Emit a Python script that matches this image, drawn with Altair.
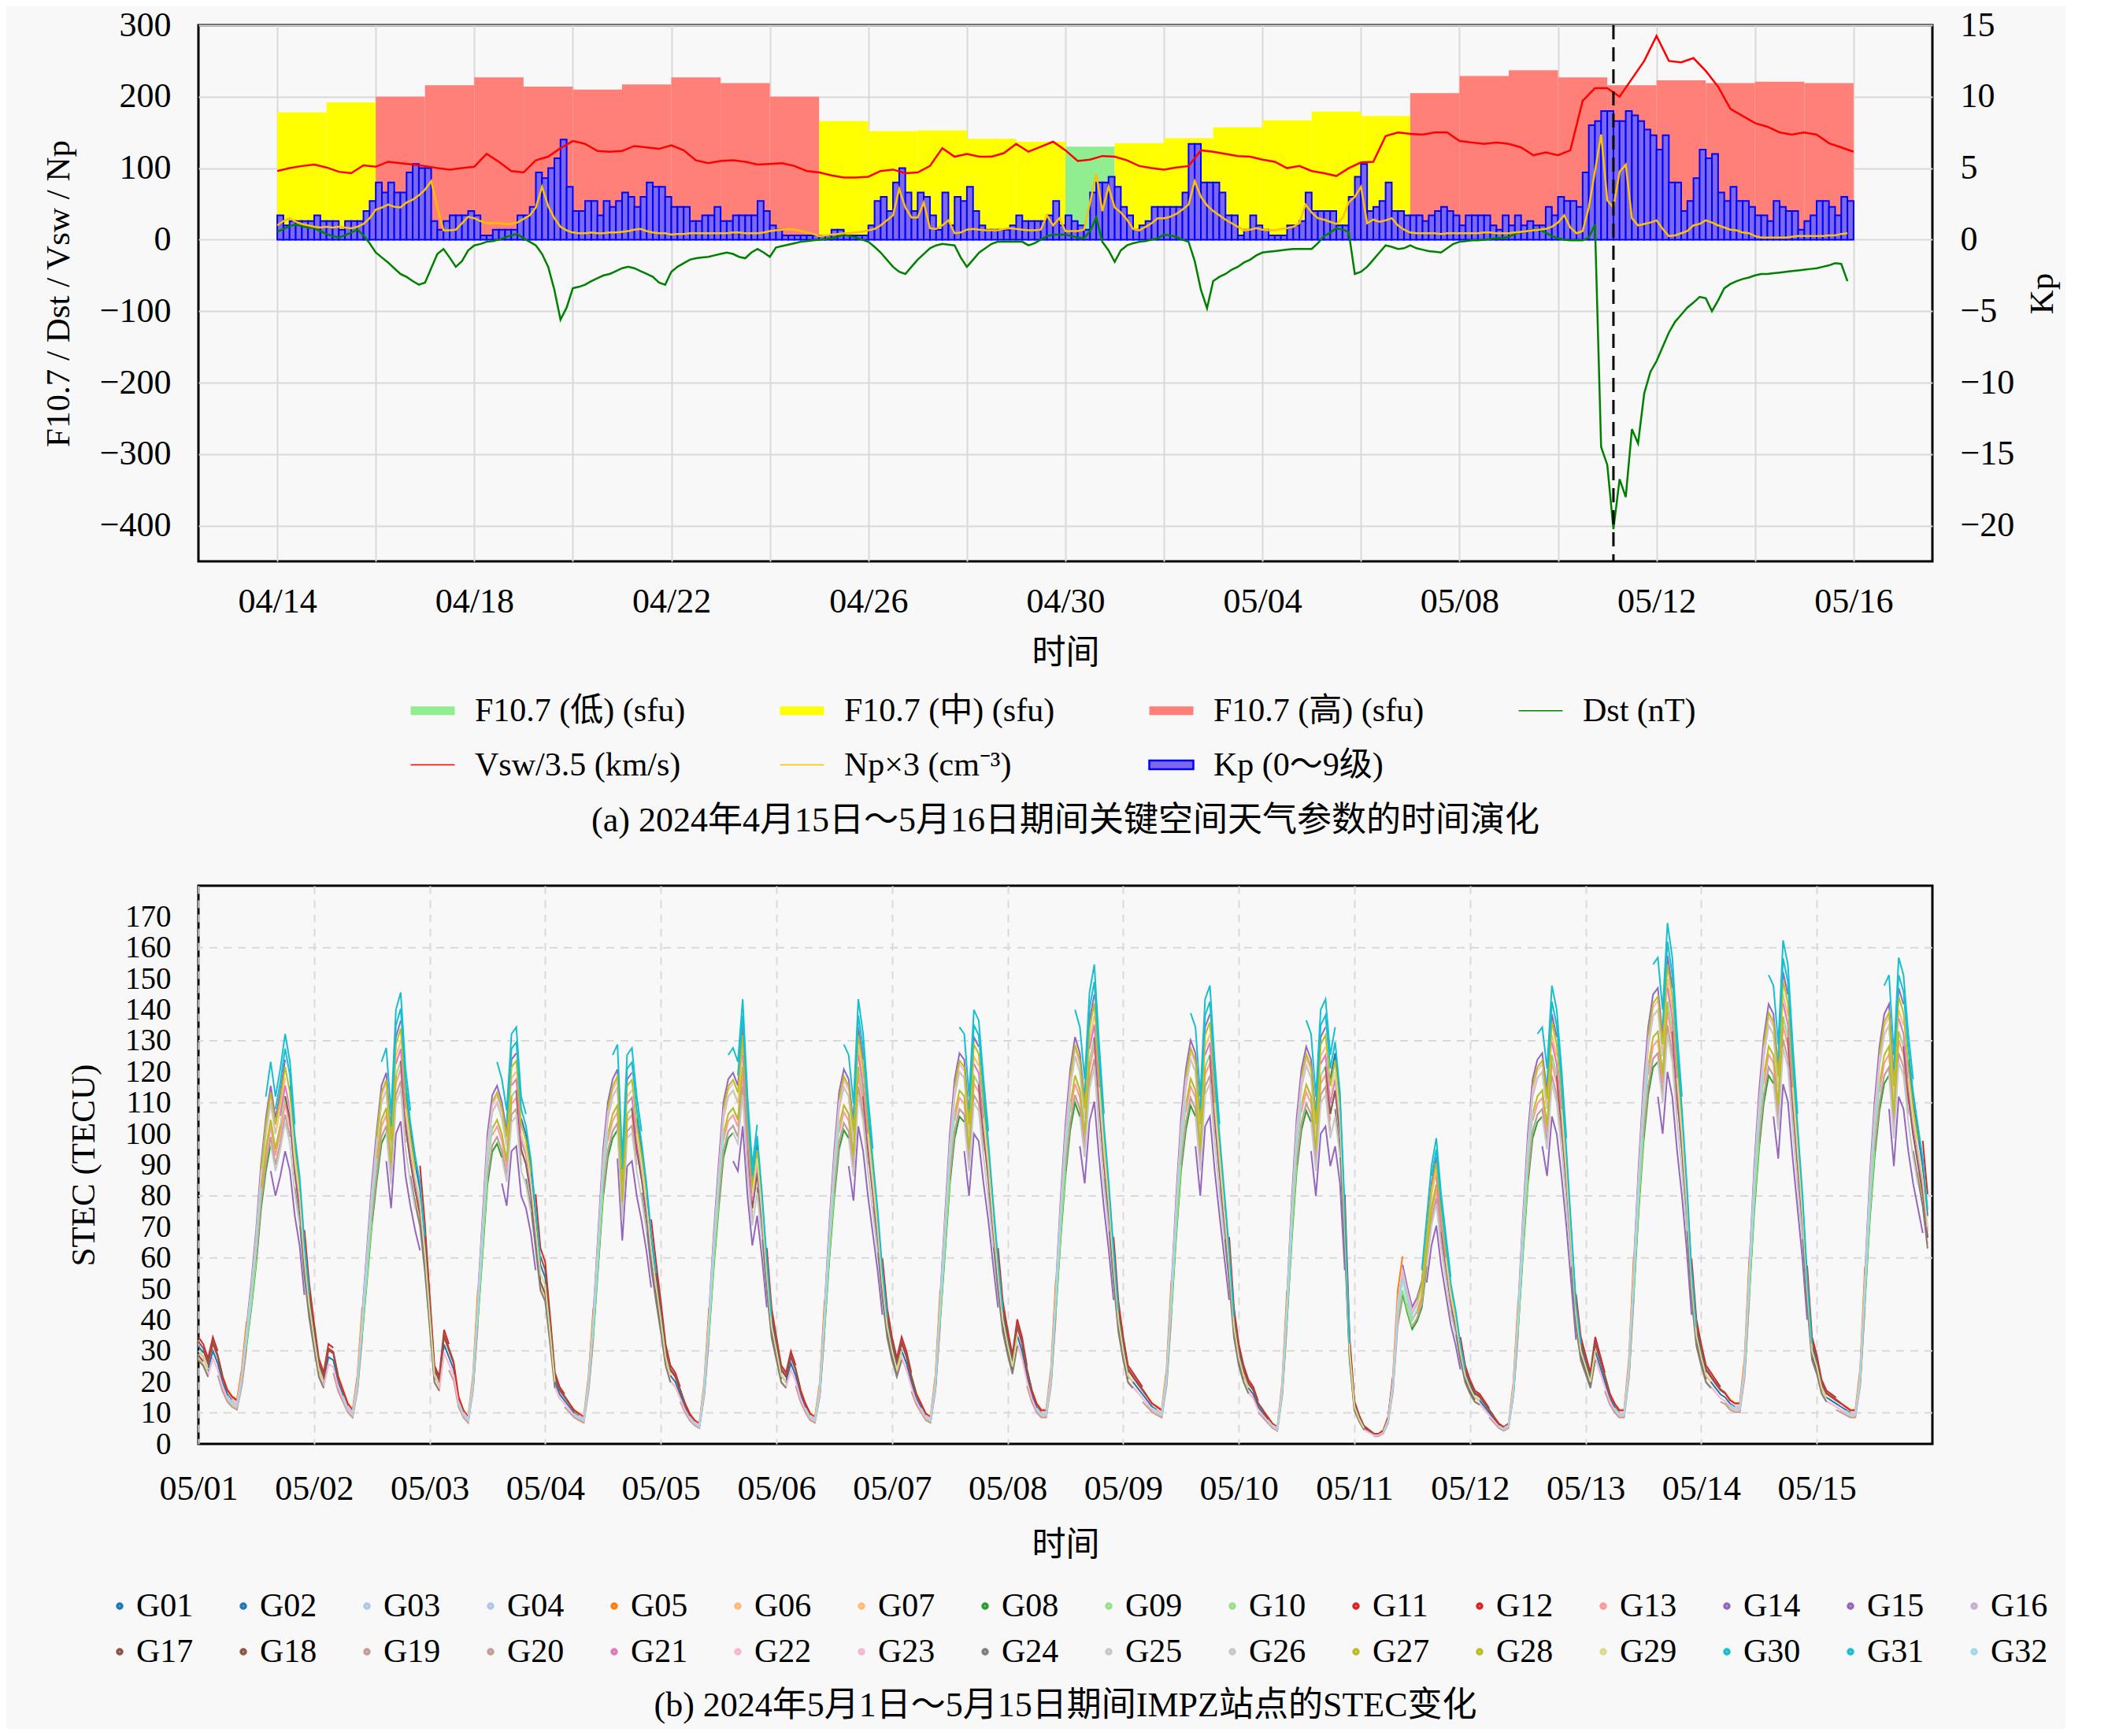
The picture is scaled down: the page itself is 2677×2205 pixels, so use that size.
import altair as alt
import pandas as pd

FONT = "Liberation Serif, Noto Sans CJK SC"

# ---------------- panel (a): space-weather parameters ----------------
# daily F10.7 (sfu), 04/14 ... 05/15
f107_values = [178, 192, 200, 216, 227, 214, 210, 217, 227, 219, 200, 166, 152, 153, 141, 137,
               130, 135, 142, 157, 167, 179, 173, 205, 229, 237, 227, 216, 223, 219, 221, 219]
f107_levels = ["中", "中", "高", "高", "高", "高", "高", "高", "高", "高", "高", "中", "中", "中", "中", "中",
               "低", "中", "中", "中", "中", "中", "中", "高", "高", "高", "高", "高", "高", "高", "高", "高"]
level_names = ["低", "中", "高"]
level_colors = ["#90ee90", "#ffff00", "#ff8078"]

# 3-hourly Kp, one row per day
kp_rows = [
    [1.7, 1.0, 1.3, 1.3, 1.3, 1.3, 1.7, 1.3],
    [1.3, 1.3, 0.7, 1.3, 1.3, 1.3, 2.0, 2.7],
    [4.0, 3.3, 4.0, 3.3, 3.3, 4.7, 5.3, 5.0],
    [5.0, 1.3, 0.7, 1.3, 1.7, 1.7, 1.7, 2.0],
    [1.7, 0.3, 0.3, 0.7, 0.7, 0.7, 0.7, 1.7],
    [1.7, 2.3, 4.7, 4.3, 5.0, 5.7, 7.0, 3.7],
    [2.0, 2.0, 2.7, 2.7, 1.7, 2.7, 2.3, 2.7],
    [3.3, 3.0, 2.3, 3.0, 4.0, 3.7, 3.7, 3.0],
    [2.3, 2.3, 2.3, 1.3, 1.3, 1.7, 1.7, 2.3],
    [1.3, 1.3, 1.7, 1.7, 1.7, 1.7, 2.7, 2.0],
    [1.0, 0.7, 0.3, 0.3, 0.3, 0.3, 0.3, 0.3],
    [0.3, 0.3, 0.7, 0.7, 0.3, 0.3, 0.3, 0.3],
    [1.0, 2.7, 3.0, 2.0, 4.0, 5.0, 3.3, 2.0],
    [3.3, 3.0, 1.7, 0.7, 3.3, 1.0, 3.0, 2.7],
    [3.7, 2.0, 1.0, 0.7, 0.7, 0.7, 0.7, 1.0],
    [1.7, 1.3, 1.3, 1.3, 1.3, 1.7, 2.7, 1.0],
    [1.7, 1.3, 1.0, 0.7, 3.3, 4.0, 4.0, 4.4],
    [3.7, 2.3, 1.7, 0.7, 1.0, 1.3, 2.3, 2.3],
    [2.3, 2.3, 2.3, 3.3, 6.7, 6.7, 4.0, 4.0],
    [4.0, 3.3, 1.7, 1.7, 0.3, 0.7, 1.7, 1.0],
    [0.7, 0.3, 0.3, 0.3, 1.0, 1.0, 1.3, 3.3],
    [2.0, 2.0, 2.0, 2.0, 1.0, 1.0, 3.0, 4.4],
    [5.3, 2.0, 2.3, 2.7, 4.0, 2.0, 2.0, 1.7],
    [1.7, 1.7, 1.3, 1.7, 2.0, 2.3, 2.0, 1.7],
    [1.0, 1.7, 1.7, 1.7, 1.7, 1.0, 0.7, 1.7],
    [1.0, 1.7, 1.0, 1.3, 1.0, 1.0, 2.3, 1.7],
    [3.0, 2.7, 2.7, 2.3, 4.7, 8.0, 8.3, 9.0],
    [9.0, 8.3, 8.3, 9.0, 8.7, 8.3, 7.7, 7.3],
    [6.3, 7.3, 4.0, 4.0, 2.0, 2.7, 4.3, 6.3],
    [5.7, 6.0, 3.3, 2.7, 3.7, 2.7, 2.7, 2.3],
    [1.7, 1.7, 1.3, 2.7, 2.3, 2.0, 2.0, 0.7],
    [1.3, 1.7, 2.7, 2.7, 2.3, 1.7, 3.0, 2.7],
]

# 3-hourly Dst (nT)
dst_rows = [
    [11, 15, 19, 21, 19, 17, 16, 12],
    [8, 5, 3, 6, 10, 14, 6, -5],
    [-18, -25, -32, -40, -48, -52, -58, -63],
    [-60, -40, -20, -13, -25, -38, -30, -15],
    [-8, -6, -3, -2, 0, 3, 6, 8],
    [2, -3, -8, -20, -38, -70, -112, -95],
    [-68, -66, -63, -58, -54, -50, -48, -44],
    [-40, -38, -40, -44, -48, -52, -60, -63],
    [-45, -38, -33, -28, -26, -25, -24, -22],
    [-20, -18, -20, -24, -26, -18, -13, -18],
    [-24, -11, -9, -7, -5, -3, -2, -1],
    [0, 1, 2, 4, 7, 5, 3, 0],
    [-3, -10, -18, -28, -38, -45, -48, -38],
    [-28, -20, -12, -8, -6, -7, -8, -25],
    [-38, -28, -18, -12, -6, -3, -3, -3],
    [-3, -3, -8, -5, 0, 5, 7, 7],
    [7, 5, 3, 2, 12, 31, -3, -15],
    [-31, -15, -8, -5, -3, -2, 0, 2],
    [7, 6, 4, 0, -3, -30, -70, -96],
    [-58, -52, -48, -42, -38, -32, -28, -22],
    [-18, -17, -16, -15, -14, -13, -13, -13],
    [-13, -5, 5, 10, 16, 14, 11, -48],
    [-45, -38, -28, -18, -8, -10, -13, -12],
    [-8, -12, -14, -16, -17, -18, -12, -6],
    [-3, -2, -1, -1, 0, 1, 2, 2],
    [4, 8, 11, 12, 14, 14, 10, 5],
    [2, 0, -1, -1, -1, 3, 21, -290],
    [-315, -405, -335, -360, -265, -285, -215, -185],
    [-170, -150, -130, -115, -105, -95, -88, -80],
    [-82, -100, -85, -68, -62, -58, -55, -53],
    [-50, -48, -48, -47, -46, -45, -44, -43],
    [-42, -41, -40, -38, -36, -33, -34, -58],
]

# 6-hourly solar-wind speed / 3.5
vsw_rows = [
    [96, 100, 103, 105], [101, 95, 93, 104], [102, 109, 107, 105], [103, 100, 98, 100],
    [102, 120, 109, 96], [94, 111, 116, 128], [138, 134, 124, 123], [124, 131, 129, 127],
    [132, 125, 111, 107], [110, 111, 109, 105], [106, 107, 103, 96], [94, 90, 87, 87],
    [88, 96, 98, 93], [94, 103, 128, 116], [120, 116, 116, 121], [134, 123, 130, 137],
    [125, 110, 112, 117], [116, 111, 103, 100], [98, 101, 103, 125], [123, 120, 117, 116],
    [112, 109, 100, 103], [96, 93, 89, 100], [108, 109, 145, 150], [148, 147, 150, 150],
    [138, 136, 134, 136], [134, 129, 118, 122], [118, 125, 194, 212], [212, 200, 225, 250],
    [285, 250, 248, 254], [236, 214, 183, 173], [163, 158, 150, 147], [150, 147, 135, 129],
    [123],
]

# 3-hourly proton density x 3
np_rows = [
    [20, 26, 30, 25, 22, 20, 18, 17],
    [18, 17, 18, 17, 16, 18, 22, 30],
    [42, 45, 49, 46, 45, 52, 56, 62],
    [70, 82, 45, 13, 13, 14, 23, 32],
    [30, 26, 23, 23, 23, 22, 22, 24],
    [29, 34, 45, 74, 47, 30, 18, 13],
    [10, 9, 9, 10, 9, 9, 10, 10],
    [11, 12, 14, 15, 12, 10, 9, 9],
    [7, 8, 8, 9, 9, 9, 9, 9],
    [9, 9, 10, 10, 9, 9, 9, 10],
    [12, 13, 14, 15, 14, 12, 10, 8],
    [5, 6, 7, 8, 9, 9, 10, 11],
    [13, 15, 20, 27, 34, 71, 45, 31],
    [31, 52, 16, 15, 20, 27, 9, 10],
    [14, 15, 14, 13, 13, 13, 15, 16],
    [15, 14, 13, 13, 14, 34, 20, 30],
    [12, 12, 12, 14, 52, 92, 40, 74],
    [45, 38, 28, 15, 13, 18, 23, 30],
    [30, 32, 36, 42, 49, 82, 60, 48],
    [40, 34, 28, 23, 18, 13, 14, 16],
    [14, 13, 13, 15, 16, 18, 23, 49],
    [38, 30, 28, 25, 22, 30, 52, 60],
    [74, 23, 28, 25, 27, 30, 20, 14],
    [10, 9, 9, 9, 9, 8, 9, 9],
    [9, 9, 9, 9, 10, 10, 9, 9],
    [9, 10, 11, 12, 13, 14, 15, 18],
    [24, 34, 17, 9, 12, 45, 96, 147],
    [55, 45, 95, 105, 30, 20, 22, 24],
    [27, 15, 5, 6, 9, 12, 20, 22],
    [27, 24, 20, 17, 14, 13, 10, 9],
    [5, 3, 3, 3, 3, 3, 4, 5],
    [5, 5, 5, 5, 6, 6, 8, 9],
]

storm_marker = [27.125]  # days after 04/14 (05/11 03:00)

top_tick_values = [0, 2, 4, 6, 8, 10, 12, 14, 16, 18, 20, 22, 24, 26, 28, 30, 32]
top_tick_labels = ["04/14", "", "04/18", "", "04/22", "", "04/26", "", "04/30", "",
                   "05/04", "", "05/08", "", "05/12", "", "05/16"]

legend_a_names = ["F10.7 (低) (sfu)", "F10.7 (中) (sfu)", "F10.7 (高) (sfu)", "Dst (nT)",
                  "Vsw/3.5 (km/s)", "Np×3 (cm⁻³)", "Kp (0～9级)"]
legend_a_colors = ["#90ee90", "#ffff00", "#ff8078", "#008000", "#ff0000", "#ffc000", "#7b68ee"]
RECT = "M-1,-0.2L1,-0.2L1,0.2L-1,0.2Z"
LINE = "M-1,-0.03L1,-0.03L1,0.03L-1,0.03Z"
legend_a_shapes = [RECT, RECT, RECT, LINE, LINE, LINE, RECT]
legend_a_strokes = ["transparent"] * 6 + ["#0000ff"]

# ---------------- panel (b): STEC at IMPZ ----------------
stec_tick_labels = ["05/01", "05/02", "05/03", "05/04", "05/05", "05/06", "05/07", "05/08",
                    "05/09", "05/10", "05/11", "05/12", "05/13", "05/14", "05/15"]
sat_names = ["G01", "G02", "G03", "G04", "G05", "G06", "G07", "G08", "G09", "G10", "G11",
             "G12", "G13", "G14", "G15", "G16", "G17", "G18", "G19", "G20", "G21", "G22",
             "G23", "G24", "G25", "G26", "G27", "G28", "G29", "G30", "G31", "G32"]
sat_colors = ["#1f77b4", "#1f77b4", "#aec7e8", "#aec7e8", "#ff7f0e", "#ffbb78", "#ffbb78",
              "#2ca02c", "#98df8a", "#98df8a", "#d62728", "#d62728", "#ff9896", "#9467bd",
              "#9467bd", "#c5b0d5", "#8c564b", "#8c564b", "#c49c94", "#c49c94", "#e377c2",
              "#f7b6d2", "#f7b6d2", "#7f7f7f", "#c7c7c7", "#c7c7c7", "#bcbd22", "#bcbd22",
              "#dbdb8d", "#17becf", "#17becf", "#9edae5"]
# visibility window (UTC hour of rise, pass length in hours) and slant scale
sat_start = [0, 19, 8, 14, 3, 21, 11, 9, 5, 16, 22, 1, 13, 15, 10, 6,
             18, 23, 12, 4, 17, 7, 2, 20, 15, 9, 11, 13, 19, 16, 14, 6]
sat_hours = [7, 6, 8, 6, 7, 6, 7, 6, 7, 8, 6, 7, 6, 7, 8, 6,
             7, 6, 7, 6, 6, 8, 7, 6, 6, 7, 6, 8, 7, 7, 6, 7]
sat_scale = [1.00, 1.05, 0.90, 0.95, 1.10, 0.92, 1.00, 0.88, 0.90, 0.95, 1.15, 1.08,
             0.93, 0.80, 1.05, 0.97, 0.95, 1.10, 0.90, 0.85, 0.98, 1.02, 0.92, 0.90,
             0.88, 1.00, 0.95, 1.03, 1.00, 1.08, 1.12, 0.96]
# hourly vertical-equivalent level, one row per day (05/01 ... 05/15)
stec_base = [
    [30, 28, 24, 30, 26, 20, 16, 14, 13, 22, 36, 50, 66, 86, 100, 110, 100, 108, 118, 110, 92, 80, 60, 45],
    [34, 24, 20, 28, 27, 20, 16, 12, 10, 20, 40, 60, 80, 96, 110, 114, 95, 125, 130, 108, 96, 86, 78, 62],
    [42, 22, 19, 32, 28, 24, 14, 10, 8, 20, 45, 70, 95, 107, 110, 105, 96, 118, 120, 100, 95, 85, 70, 55],
    [51, 36, 20, 16, 14, 12, 10, 9, 8, 20, 40, 65, 90, 105, 112, 115, 82, 112, 114, 100, 90, 78, 63, 51],
    [40, 28, 22, 20, 16, 12, 9, 7, 6, 18, 40, 65, 86, 105, 112, 114, 110, 128, 100, 80, 92, 75, 55, 38],
    [30, 22, 20, 26, 22, 16, 12, 9, 8, 18, 42, 68, 90, 108, 115, 112, 98, 128, 118, 100, 85, 70, 52, 38],
    [30, 24, 30, 26, 20, 15, 12, 9, 8, 20, 45, 70, 95, 112, 120, 118, 100, 125, 122, 105, 90, 72, 55, 40],
    [32, 25, 35, 30, 22, 16, 12, 10, 10, 22, 48, 75, 98, 115, 125, 120, 105, 130, 138, 115, 95, 78, 58, 40],
    [30, 22, 20, 18, 16, 14, 12, 11, 10, 22, 48, 76, 100, 115, 124, 120, 100, 128, 132, 110, 92, 75, 58, 38],
    [28, 22, 18, 16, 12, 10, 8, 6, 5, 18, 45, 75, 100, 115, 122, 118, 100, 125, 128, 112, 120, 105, 70, 30],
    [12, 8, 5, 4, 3, 3, 4, 8, 20, 45, 55, 48, 42, 45, 50, 65, 80, 88, 72, 60, 48, 40, 30, 22],
    [18, 15, 14, 12, 10, 8, 6, 5, 6, 18, 42, 70, 95, 112, 118, 120, 108, 132, 125, 108, 88, 65, 42, 30],
    [25, 20, 30, 25, 20, 15, 12, 10, 10, 25, 55, 85, 110, 128, 138, 140, 125, 150, 140, 118, 100, 78, 52, 35],
    [28, 22, 20, 18, 16, 15, 13, 12, 12, 25, 55, 85, 108, 125, 135, 132, 115, 145, 138, 115, 95, 75, 50, 30],
    [25, 18, 15, 14, 13, 12, 11, 10, 10, 22, 52, 82, 105, 122, 132, 135, 112, 140, 135, 118, 105, 95, 85, 70],
]
stec_grid_values = [10, 30, 60, 80, 110, 130, 160]

# ---------------- tables ----------------
f107_df = pd.DataFrame({"t0": list(range(len(f107_values))),
                        "t1": [d + 1 for d in range(len(f107_values))],
                        "f107": f107_values, "level": f107_levels})
kp_flat = [v for row in kp_rows for v in row]
kp_df = pd.DataFrame({"t0": [i / 8 for i in range(len(kp_flat))],
                      "t1": [(i + 1) / 8 for i in range(len(kp_flat))], "kp": kp_flat})
dst_flat = [v for row in dst_rows for v in row]
dst_df = pd.DataFrame({"t": [i / 8 for i in range(len(dst_flat))], "v": dst_flat})
vsw_flat = [v for row in vsw_rows for v in row]
vsw_df = pd.DataFrame({"t": [i / 4 for i in range(len(vsw_flat))], "v": vsw_flat})
np_flat = [v for row in np_rows for v in row]
np_df = pd.DataFrame({"t": [i / 8 for i in range(len(np_flat))], "v": np_flat})
storm_df = pd.DataFrame({"t": storm_marker})
leg_df = pd.DataFrame({"series": legend_a_names})

base_flat = [v for row in stec_base for v in row]
rows = []
for i, s in enumerate(sat_names):
    for d in range(-1, len(stec_base)):
        start = d * 24 + sat_start[i]
        for h in range(start, start + sat_hours[i] + 1):
            if 0 <= h < len(base_flat):
                rows.append({"t": h / 24, "stec": round(base_flat[h] * sat_scale[i], 1),
                             "sat": s, "pass": f"{s}-{d}"})
stec_df = pd.DataFrame(rows)
grid_df = pd.DataFrame({"g": stec_grid_values})

# ---------------- encodings ----------------
top_expr = "[" + ",".join(f"'{s}'" for s in top_tick_labels) + "][round(datum.value/2)]"
bot_expr = "[" + ",".join(f"'{s}'" for s in stec_tick_labels) + "][round(datum.value)]"


def xa(field):
    return alt.X(field, type="quantitative",
                 scale=alt.Scale(domain=[-1.6, 33.6], nice=False, zero=False),
                 axis=alt.Axis(values=top_tick_values, labelExpr=top_expr, title="时间",
                               grid=True, labelPadding=29, titlePadding=22, labelFlush=False))


LEFT_SCALE = alt.Scale(domain=[-450, 300], nice=False, zero=False)


def y_left(field):
    return alt.Y(field, type="quantitative", scale=LEFT_SCALE,
                 axis=alt.Axis(values=list(range(-400, 301, 100)), orient="left",
                               title="F10.7 / Dst / Vsw / Np", grid=True,
                               labelPadding=35, titlePadding=30, labelFlush=False))


def y_hidden(field):
    return alt.Y(field, type="quantitative", scale=LEFT_SCALE, axis=None)


f107_chart = alt.Chart(f107_df).mark_rect().encode(
    x=xa("t0"), x2="t1", y=y_left("f107"), y2=alt.datum(0),
    fill=alt.Fill("level:N", scale=alt.Scale(domain=level_names, range=level_colors), legend=None),
)

kp_chart = alt.Chart(kp_df).mark_rect(fill="#7b68ee", stroke="#0000ff", strokeWidth=2).encode(
    x=xa("t0"), x2="t1",
    y=alt.Y("kp:Q", scale=alt.Scale(domain=[-22.5, 15], nice=False, zero=False),
            axis=alt.Axis(values=list(range(-20, 16, 5)), orient="right", title="Kp",
                          grid=False, labelPadding=35, titlePadding=58, titleAngle=270,
                          labelFlush=False)),
    y2=alt.datum(0),
)

dst_line = alt.Chart(dst_df).mark_line(color="#008000", strokeWidth=2.5).encode(x=xa("t"), y=y_hidden("v"))
vsw_line = alt.Chart(vsw_df).mark_line(color="#ff0000", strokeWidth=2.5).encode(x=xa("t"), y=y_hidden("v"))
np_line = alt.Chart(np_df).mark_line(color="#ffc000", strokeWidth=2.5).encode(x=xa("t"), y=y_hidden("v"))
storm_rule = alt.Chart(storm_df).mark_rule(color="black", strokeWidth=3, strokeDash=[18, 10]).encode(x=xa("t"))

LEG_A = alt.Legend(orient="none", legendX=268, legendY=841, direction="horizontal", columns=4,
                   title=None, symbolSize=3136, symbolStrokeWidth=2.5, symbolOpacity=1,
                   labelFontSize=42, labelFont=FONT, labelColor="black", labelOffset=24,
                   labelLimit=800, columnPadding=114, rowPadding=18, gridAlign="all", padding=0,
                   symbolLimit=0)
leg_chart = alt.Chart(leg_df).mark_point(filled=True, opacity=1).encode(
    x=xa("nx"), y=y_hidden("ny"),
    color=alt.Color("series:N", scale=alt.Scale(domain=legend_a_names, range=legend_a_colors), legend=LEG_A),
    shape=alt.Shape("series:N", scale=alt.Scale(domain=legend_a_names, range=legend_a_shapes), legend=LEG_A),
    stroke=alt.Stroke("series:N", scale=alt.Scale(domain=legend_a_names, range=legend_a_strokes), legend=LEG_A),
)

lines_layer = alt.layer(dst_line, vsw_line, np_line, storm_rule, leg_chart)

top = alt.layer(f107_chart, kp_chart, lines_layer).resolve_scale(y="independent").properties(
    width=2202, height=681,
    title=alt.TitleParams("(a) 2024年4月15日～5月16日期间关键空间天气参数的时间演化", orient="bottom",
                          anchor="middle", offset=28, fontSize=44, font=FONT,
                          fontWeight="normal", color="black"),
)

# ---------------- panel (b) ----------------
XB_SCALE = alt.Scale(domain=[0, 15], nice=False, zero=False)
YB_SCALE = alt.Scale(domain=[0, 180], nice=False, zero=False)
YB_AXIS = alt.Axis(values=list(range(0, 171, 10)), title="STEC (TECU)", grid=False,
                   labelPadding=35, titlePadding=30, labelOverlap=False, labelFlush=False,
                   labelFontSize=39)
XB_AXIS = alt.Axis(values=list(range(15)), labelExpr=bot_expr, title="时间", grid=True,
                   gridDash=[10, 8], labelPadding=35, titlePadding=28, labelFlush=False,
                   labelOverlap=False)

grid_rules = alt.Chart(grid_df).mark_rule(color="#d9d9d9", strokeWidth=2, strokeDash=[10, 8]).encode(
    y=alt.Y("g:Q", scale=YB_SCALE, axis=YB_AXIS)
)

LEG_B = alt.Legend(orient="none", legendX=-121, legendY=894, direction="horizontal", columns=16,
                   title=None, symbolType="circle", symbolSize=30, symbolStrokeWidth=4,
                   labelFontSize=42, labelFont=FONT, labelColor="black", labelOffset=0,
                   labelLimit=300, columnPadding=42, rowPadding=16, gridAlign="all", padding=0,
                   symbolLimit=0)

stec_lines = alt.Chart(stec_df).mark_line(strokeWidth=2).encode(
    x=alt.X("t:Q", scale=XB_SCALE, axis=XB_AXIS),
    y=alt.Y("stec:Q", scale=YB_SCALE, axis=YB_AXIS),
    color=alt.Color("sat:N", scale=alt.Scale(domain=sat_names, range=sat_colors), legend=LEG_B),
    detail="pass:N",
)

bottom = alt.layer(grid_rules, stec_lines).properties(
    width=2202, height=709,
    title=alt.TitleParams("(b) 2024年5月1日～5月15日期间IMPZ站点的STEC变化", orient="bottom",
                          anchor="middle", offset=26, fontSize=44, font=FONT,
                          fontWeight="normal", color="black"),
)

chart = alt.vconcat(top, bottom, spacing=56).resolve_scale(
    color="independent", shape="independent", stroke="independent", fill="independent"
).properties(
    background="#f8f8f8", padding={"left": 43, "right": 5, "top": 0, "bottom": 5}
).configure_view(
    stroke="black", strokeWidth=3
).configure_axis(
    labelFont=FONT, titleFont=FONT, labelFontSize=44, titleFontSize=43, labelColor="black",
    titleColor="black", titleFontWeight="normal", ticks=False, domain=False,
    gridColor="#d9d9d9", gridWidth=2
)

chart.save("out.html", embed_options={"renderer": "svg", "actions": False})
